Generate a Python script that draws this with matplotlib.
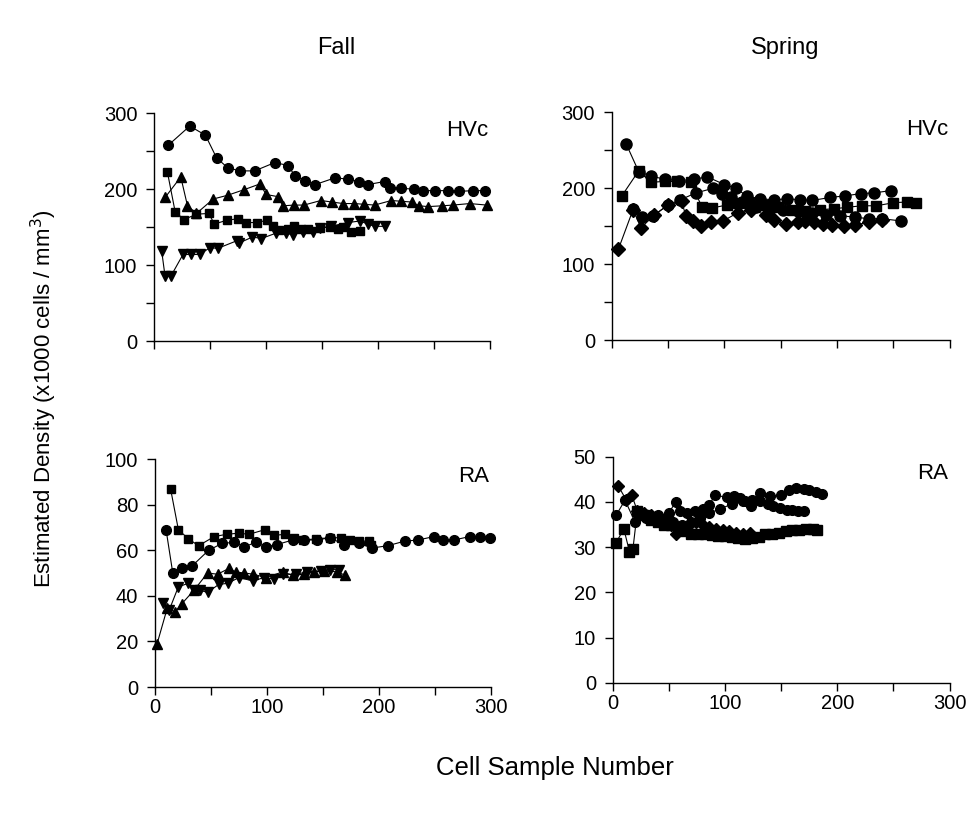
import numpy as np
import matplotlib
matplotlib.use("Agg")
import matplotlib.pyplot as plt

plt.rcParams['font.family'] = ['Liberation Sans', 'DejaVu Sans']

# Fall HVc
fh_circ_x = [13, 32, 46, 56, 66, 77, 90, 108, 120, 126, 135, 144, 162, 173, 183, 191, 206, 211, 221, 232, 240, 251, 263, 272, 285, 296]
fh_circ_y = [258, 283, 271, 241, 228, 224, 224, 235, 231, 217, 211, 206, 215, 213, 210, 206, 210, 202, 201, 200, 198, 198, 198, 197, 198, 198]
fh_tri_x = [10, 24, 30, 38, 53, 66, 80, 95, 100, 111, 115, 125, 134, 149, 159, 169, 179, 188, 197, 212, 221, 230, 237, 245, 257, 267, 282, 297]
fh_tri_y = [189, 216, 178, 168, 187, 192, 199, 207, 193, 190, 178, 179, 179, 185, 183, 181, 181, 180, 179, 185, 184, 183, 178, 177, 178, 179, 181, 179]
fh_sq_x = [12, 19, 27, 38, 49, 54, 65, 75, 82, 92, 101, 106, 112, 120, 125, 131, 138, 148, 157, 164, 169, 176, 184]
fh_sq_y = [223, 170, 160, 167, 168, 154, 159, 161, 156, 156, 159, 151, 146, 148, 151, 148, 148, 149, 150, 148, 150, 144, 145]
fh_dtri_x = [7, 10, 15, 26, 33, 41, 50, 57, 74, 76, 88, 96, 109, 118, 124, 133, 142, 148, 158, 173, 184, 191, 197, 206]
fh_dtri_y = [118, 85, 85, 114, 114, 114, 123, 122, 132, 129, 137, 135, 142, 142, 140, 144, 144, 149, 151, 156, 158, 154, 151, 151]

# Spring HVc
sh_circA_x = [13, 24, 35, 47, 60, 73, 85, 100, 110, 120, 132, 144, 156, 167, 178, 194, 207, 221, 233, 248]
sh_circA_y = [258, 222, 216, 212, 210, 212, 215, 205, 200, 190, 186, 185, 186, 185, 184, 188, 190, 193, 194, 197]
sh_sq_x = [9, 24, 35, 47, 58, 70, 80, 89, 102, 112, 122, 135, 148, 160, 172, 185, 197, 209, 222, 235, 250, 262, 270]
sh_sq_y = [190, 223, 208, 209, 209, 208, 176, 174, 178, 180, 181, 178, 175, 172, 170, 172, 173, 175, 177, 177, 181, 182, 180]
sh_circB_x = [19, 27, 37, 50, 61, 75, 90, 98, 106, 116, 128, 140, 152, 165, 178, 190, 203, 216, 228, 240, 257]
sh_circB_y = [173, 162, 164, 178, 185, 194, 200, 192, 188, 182, 176, 172, 172, 170, 168, 165, 164, 162, 160, 160, 157]
sh_dia_x = [6, 19, 26, 38, 50, 62, 66, 72, 79, 88, 99, 112, 124, 137, 144, 155, 165, 172, 180, 188, 196, 206, 216, 228, 240]
sh_dia_y = [120, 172, 148, 165, 178, 183, 163, 157, 150, 155, 157, 168, 172, 165, 158, 153, 155, 157, 155, 153, 152, 150, 152, 155, 158]

# Fall RA
fr_sq_x = [14, 21, 30, 39, 53, 64, 75, 84, 98, 106, 116, 124, 132, 144, 156, 166, 174, 182, 191, 193]
fr_sq_y = [87, 69, 65, 62, 66, 67, 67.5, 67, 69, 66.5, 67, 65.5, 64.5, 65, 65.5, 65.5, 64.5, 64, 64, 62.5]
fr_circ_x = [10, 16, 24, 33, 48, 60, 71, 80, 90, 99, 109, 123, 133, 145, 156, 169, 182, 194, 208, 223, 235, 249, 257, 267, 281, 290, 299]
fr_circ_y = [69, 50, 52, 53, 60, 63, 63.5, 61.5, 63.5, 61.5, 62.5, 64.5, 64.5, 64.5, 65.5, 62.5, 63, 61, 62, 64, 64.5, 66, 64.5, 64.5, 66, 66, 65.5]
fr_tri_x = [2, 11, 18, 24, 35, 47, 56, 66, 72, 80, 88, 99, 114, 123, 133, 142, 151, 163, 170]
fr_tri_y = [19, 34.5, 33, 36.5, 42.5, 50, 49.5, 52, 50.5, 50, 49.5, 48, 50.5, 49, 49.5, 50.5, 51, 50.5, 49]
fr_dtri_x = [7, 13, 21, 30, 35, 40, 47, 57, 65, 75, 88, 97, 106, 114, 126, 136, 148, 156, 164]
fr_dtri_y = [37, 34, 44, 45.5, 42.5, 42.5, 41.5, 45, 45.5, 48, 46.5, 48, 47.5, 49.5, 49.5, 50.5, 51, 51.5, 51.5]

# Spring RA
sr_circA_x = [3, 11, 20, 30, 40, 50, 56, 60, 66, 73, 80, 86, 91, 102, 108, 113, 118, 123, 131, 140, 150, 157, 163, 170, 175, 181, 186]
sr_circA_y = [37, 40.4, 35.5, 36.5, 37, 37.5, 40, 37.9, 37.5, 38, 38.5, 39.3, 41.5, 41, 41.2, 40.8, 40.2, 39.1, 41.9, 41.2, 41.5, 42.6, 43, 42.8, 42.6, 42.2, 41.8]
sr_circB_x = [22, 30, 38, 46, 54, 62, 70, 78, 86, 96, 106, 116, 124, 131, 138, 143, 149, 155, 160, 165, 170]
sr_circB_y = [37.5, 37, 36.5, 36, 35.5, 35, 35.5, 36.5, 37.5, 38.5, 39.5, 40.2, 40.5, 40.1, 39.5, 39, 38.6, 38.3, 38.2, 38.1, 38.0]
sr_sq_x = [3, 10, 15, 18, 22, 28, 34, 40, 46, 52, 58, 64, 70, 76, 82, 88, 94, 100, 106, 112, 118, 124, 130, 136, 142, 148, 154, 160, 166, 172, 178, 182]
sr_sq_y = [31, 34, 29, 29.5, 38, 37, 36, 35.5, 35, 34.8, 34, 33.5, 33, 33, 32.8, 32.7, 32.5, 32.5, 32.3, 32, 31.8, 32, 32.3, 32.8, 33, 33.2, 33.5, 33.7, 33.8, 34, 34, 33.9]
sr_dia_x = [5, 12, 17, 22, 28, 34, 40, 46, 52, 56, 62, 68, 74, 80, 86, 92, 98, 104, 110, 116, 122]
sr_dia_y = [43.5, 40.5, 41.5, 38, 37.5, 37, 36.5, 36, 35, 33, 34.5, 35, 35.5, 35, 34.5, 34, 33.8, 33.5, 33.2, 33, 33.2]

fig = plt.figure(figsize=(9.74, 8.14), dpi=100)
ax_fh = fig.add_axes([0.158, 0.581, 0.345, 0.280])
ax_sh = fig.add_axes([0.628, 0.582, 0.347, 0.280])
ax_fr = fig.add_axes([0.159, 0.156, 0.345, 0.280])
ax_sr = fig.add_axes([0.629, 0.161, 0.346, 0.278])

def line(ax, x, y, m, ms):
    ax.plot(x, y, '-', color='black', lw=0.8, marker=m, ms=ms,
            mfc='black', mec='black', clip_on=False)

line(ax_fh, fh_circ_x, fh_circ_y, 'o', 7)
line(ax_fh, fh_tri_x, fh_tri_y, '^', 7)
line(ax_fh, fh_sq_x, fh_sq_y, 's', 6)
line(ax_fh, fh_dtri_x, fh_dtri_y, 'v', 7)

line(ax_sh, sh_circA_x, sh_circA_y, 'o', 8)
line(ax_sh, sh_sq_x, sh_sq_y, 's', 7)
line(ax_sh, sh_circB_x, sh_circB_y, 'o', 8)
line(ax_sh, sh_dia_x, sh_dia_y, 'D', 7)

line(ax_fr, fr_sq_x, fr_sq_y, 's', 6)
line(ax_fr, fr_circ_x, fr_circ_y, 'o', 7)
line(ax_fr, fr_tri_x, fr_tri_y, '^', 7)
line(ax_fr, fr_dtri_x, fr_dtri_y, 'v', 7)

line(ax_sr, sr_circA_x, sr_circA_y, 'o', 7)
line(ax_sr, sr_circB_x, sr_circB_y, 'o', 7)
line(ax_sr, sr_sq_x, sr_sq_y, 's', 7)
line(ax_sr, sr_dia_x, sr_dia_y, 'D', 6)

xt = [0, 50, 100, 150, 200, 250, 300]
xl = ['0', '', '100', '', '200', '', '300']
for ax in [ax_fh, ax_sh, ax_fr, ax_sr]:
    ax.set_xlim(0, 300)
    for s in ['top', 'right']:
        ax.spines[s].set_visible(False)
    ax.spines['left'].set_linewidth(1.0)
    ax.spines['bottom'].set_linewidth(1.0)
    ax.tick_params(direction='out', length=6, width=1, labelsize=14.5)
    ax.tick_params(axis='x', pad=2)
    ax.tick_params(axis='y', pad=6)
    ax.set_xticks(xt)
    ax.set_xticklabels(xl if ax in (ax_fr, ax_sr) else [''] * 7)

for ax in [ax_fh, ax_sh]:
    ax.set_ylim(0, 300)
    ax.set_yticks([0, 50, 100, 150, 200, 250, 300])
    ax.set_yticklabels(['0', '', '100', '', '200', '', '300'])
    ax.text(0.995, 0.97, 'HVc', transform=ax.transAxes, ha='right', va='top', fontsize=16)

ax_fr.set_ylim(0, 100)
ax_fr.set_yticks([0, 20, 40, 60, 80, 100])
ax_sr.set_ylim(0, 50)
ax_sr.set_yticks([0, 10, 20, 30, 40, 50])
for ax in [ax_fr, ax_sr]:
    ax.text(0.995, 0.97, 'RA', transform=ax.transAxes, ha='right', va='top', fontsize=16)

fig.text(0.345, 0.941, 'Fall', ha='center', va='center', fontsize=17)
fig.text(0.806, 0.941, 'Spring', ha='center', va='center', fontsize=17)
fig.text(0.570, 0.056, 'Cell Sample Number', ha='center', va='center', fontsize=18.5)
fig.text(0.045, 0.51, 'Estimated Density (x1000 cells / mm$^3$)', rotation=90,
         ha='center', va='center', fontsize=16)

fig.savefig('out.png', dpi=100)
